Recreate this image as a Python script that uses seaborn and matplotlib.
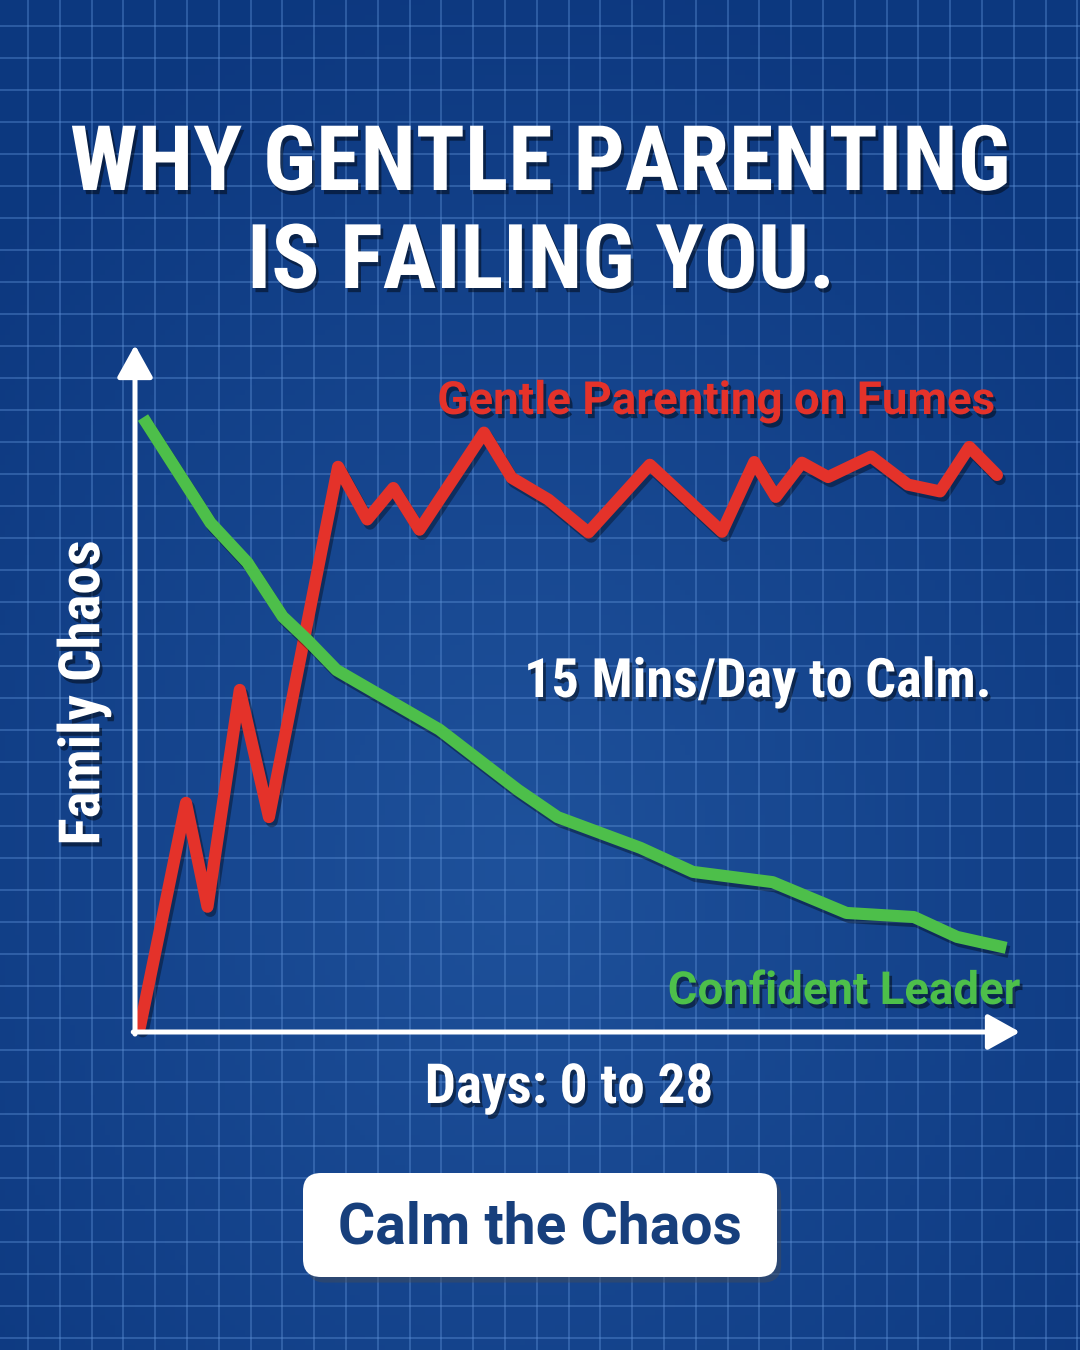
import numpy as np
import seaborn as sns
import matplotlib.pyplot as plt
import matplotlib.patheffects as pe
from matplotlib import font_manager
from matplotlib.patches import FancyBboxPatch

# --- data (days, chaos index 0-100) ---
red_days = [0.0, 1.5, 2.2, 3.25, 4.2, 6.45, 7.4, 8.25, 9.1, 11.2, 12.1, 13.3,
            14.6, 16.6, 18.95, 20.0, 20.7, 21.55, 22.4, 23.8, 25.0, 26.05, 27.0, 27.9]
red_chaos = [0.7, 33.5, 18.3, 50.0, 31.4, 82.6, 74.9, 79.5, 73.4, 87.6, 81.0, 77.8,
             73.0, 82.9, 73.1, 83.3, 78.2, 83.2, 81.1, 84.1, 80.0, 79.0, 85.5, 81.4]
green_days = [0.1, 2.3, 3.5, 4.65, 5.45, 6.4, 9.75, 12.3, 13.6, 16.3, 18.0, 20.6,
              23.0, 25.2, 26.6, 28.2]
green_chaos = [89.8, 74.4, 68.6, 60.7, 57.3, 52.9, 44.2, 35.4, 31.4, 26.9, 23.4, 21.9,
               17.4, 16.8, 13.9, 12.3]

title_lines = ["WHY GENTLE PARENTING", "IS FAILING YOU."]
red_label = "Gentle Parenting on Fumes"
green_label = "Confident Leader"
note = "15 Mins/Day to Calm."
x_label = "Days: 0 to 28"
y_label = "Family Chaos"
button = "Calm the Chaos"

RED = "#e4322a"
GREEN = "#4dbf4a"
NAVY = "#173f7c"

sns.set_style("white")
names = {f.name for f in font_manager.fontManager.ttflist}
cond = next(n for n in ["Roboto Condensed", "Liberation Sans Narrow", "DejaVu Sans"]
            if n in names or n == "DejaVu Sans")
body = "Roboto" if "Roboto" in names else "DejaVu Sans"
plt.rcParams["font.family"] = [body, "DejaVu Sans"]

fig = plt.figure(figsize=(10.8, 13.5), dpi=100)

# background: blueprint gradient + grid, in pixel coordinates
bg = fig.add_axes([0, 0, 1, 1])
bg.set_xlim(0, 1080)
bg.set_ylim(1350, 0)
bg.axis("off")
yy, xx = np.mgrid[0:1350:5, 0:1080:5]
r = np.clip(np.hypot((xx - 520) / 720, (yy - 860) / 900), 0, 1)[..., None]
centre = np.array([0.12, 0.32, 0.61])
edge = np.array([0.05, 0.22, 0.50])
bg.imshow(centre * (1 - r) + edge * r, extent=(0, 1080, 1350, 0), aspect="auto", zorder=0)
for gx in np.arange(28, 1080, 31.8):
    bg.axvline(gx, color="#5f92d8", lw=1.1, alpha=0.5, zorder=1)
for gy in np.arange(26, 1350, 32.0):
    bg.axhline(gy, color="#5f92d8", lw=1.1, alpha=0.5, zorder=1)

# chart axes
ax = fig.add_axes([135 / 1080, (1350 - 1032) / 1350, 885 / 1080, 687 / 1350])
ax.patch.set_alpha(0)
ax.set_axis_off()
shadow = [pe.SimpleLineShadow(offset=(2, -3), shadow_color="black", alpha=0.35), pe.Normal()]
sns.lineplot(x=red_days, y=red_chaos, ax=ax, color=RED, lw=8.7, sort=False,
             solid_joinstyle="round", solid_capstyle="round", path_effects=shadow, clip_on=False)
sns.lineplot(x=green_days, y=green_chaos, ax=ax, color=GREEN, lw=8.7, sort=False,
             solid_joinstyle="round", solid_capstyle="butt", path_effects=shadow, clip_on=False)
ax.set_xlim(-0.16, 28.65)
ax.set_ylim(0, 100.4)

arrow = dict(arrowstyle="-|>,head_width=0.5,head_length=0.9", color="white", lw=3.6,
             mutation_scale=22, shrinkA=0, shrinkB=0)
ax.annotate("", xy=(0, 1), xytext=(0, -0.003), xycoords="axes fraction", arrowprops=arrow)
ax.annotate("", xy=(1, 0), xytext=(-0.002, 0), xycoords="axes fraction", arrowprops=arrow)

# texts
tshadow = [pe.withSimplePatchShadow(offset=(2, -3), shadow_rgbFace="black", alpha=0.45)]
texts = []


def put(x, y, s, width, family, color, rot=0, **kw):
    t = bg.text(x, y, s, color=color, family=[family, "DejaVu Sans"], weight="bold",
                rotation=rot, fontsize=40, path_effects=tshadow, zorder=4, **kw)
    texts.append((t, width, rot))
    return t


put(540, 190, title_lines[0], 940, cond, "white", ha="center", va="baseline",
    fontstretch="condensed")
put(541, 288, title_lines[1], 587, cond, "white", ha="center", va="baseline",
    fontstretch="condensed")
put(716, 414, red_label, 557, body, RED, ha="center", va="baseline")
put(758, 697, note, 467, cond, "white", ha="center", va="baseline", fontstretch="condensed")
put(844, 1004, green_label, 352, body, GREEN, ha="center", va="baseline")
put(569, 1103, x_label, 288, cond, "white", ha="center", va="baseline", fontstretch="condensed")
put(84, 693, y_label, 305, cond, "white", rot=90, ha="center", va="center",
    fontstretch="condensed")

box = FancyBboxPatch((303, 1173), 474, 104, boxstyle="round,pad=0,rounding_size=18",
                     fc="white", ec="none", zorder=5,
                     path_effects=[pe.withSimplePatchShadow(offset=(3, -4), alpha=0.4)])
bg.add_patch(box)
t = bg.text(540, 1243, button, color=NAVY, family=[body, "DejaVu Sans"], weight="bold",
            fontsize=40, ha="center", va="baseline", zorder=6)
texts.append((t, 404, 0))

# fit each text to the width measured on the reference
renderer = fig.canvas.get_renderer()
for t, w, rot in texts:
    bb = t.get_window_extent(renderer)
    size = bb.height if rot else bb.width
    t.set_fontsize(t.get_fontsize() * w / size)

fig.savefig("out.png", dpi=100)
